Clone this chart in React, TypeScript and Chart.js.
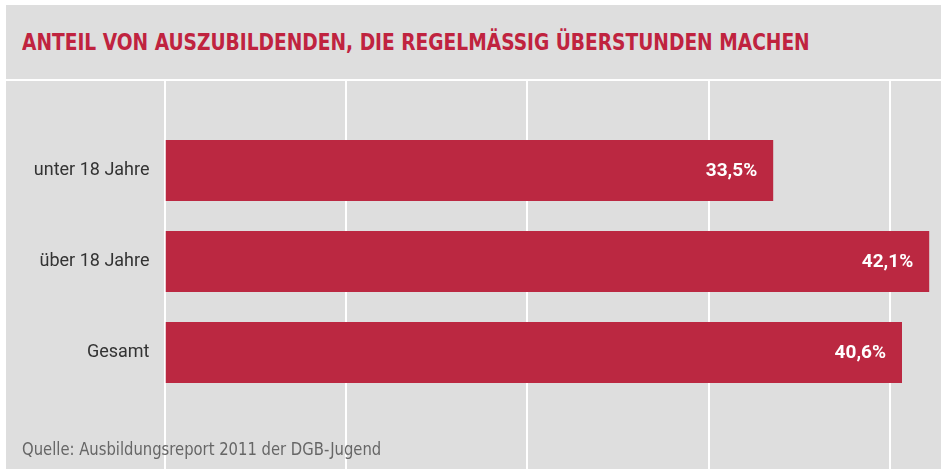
import React, { useEffect, useRef } from "react";
import { Chart, registerables } from "chart.js";

Chart.register(...registerables);

const categories: string[] = ["unter 18 Jahre", "über 18 Jahre", "Gesamt"];
const values: number[] = [33.5, 42.1, 40.6];
const gridTicks: number[] = [0, 10, 20, 30, 40];
const title = "ANTEIL VON AUSZUBILDENDEN, DIE REGELMÄSSIG ÜBERSTUNDEN MACHEN";
const source = "Quelle: Ausbildungsreport 2011 der DGB-Jugend";

const RED = "#bb2841";
const BG = "#dedede";

export default function App() {
  const ref = useRef<HTMLCanvasElement | null>(null);

  useEffect(() => {
    if (!ref.current) return;
    const gridPlugin = {
      id: "fullGrid",
      beforeDatasetsDraw(chart: any) {
        const ctx = chart.ctx;
        const xs = chart.scales.x;
        ctx.save();
        ctx.strokeStyle = "#ffffff";
        ctx.lineWidth = 2;
        for (const t of gridTicks) {
          const px = Math.round(xs.getPixelForValue(t)) - 1;
          ctx.beginPath();
          ctx.moveTo(px, 0);
          ctx.lineTo(px, chart.height);
          ctx.stroke();
        }
        ctx.restore();
      },
    };
    const labelPlugin = {
      id: "valueLabels",
      afterDatasetsDraw(chart: any) {
        const ctx = chart.ctx;
        const meta = chart.getDatasetMeta(0);
        ctx.save();
        ctx.fillStyle = "#ffffff";
        ctx.font = "bold 19px Roboto, 'Open Sans', sans-serif";
        ctx.textAlign = "right";
        ctx.textBaseline = "middle";
        meta.data.forEach((bar: any, i: number) => {
          const v = values[i];
          const txt = v.toFixed(1).replace(".", ",") + "%";
          ctx.fillText(txt, bar.x - 16, bar.y + 1);
        });
        ctx.restore();
      },
    };
    const chart = new Chart(ref.current, {
      type: "bar",
      data: {
        labels: categories,
        datasets: [
          {
            data: values,
            backgroundColor: RED,
            borderWidth: 0,
            barPercentage: 0.67,
            categoryPercentage: 1,
          },
        ],
      },
      options: {
        indexAxis: "y",
        animation: false,
        responsive: false,
        devicePixelRatio: 1,
        layout: { padding: { top: 44, bottom: 71, left: 0, right: 0 } },
        plugins: {
          legend: { display: false },
          tooltip: { enabled: false },
          title: { display: false },
        },
        scales: {
          x: {
            display: false,
            min: 0,
            max: 42.75,
          },
          y: {
            grid: { display: false, drawTicks: false },
            border: { display: false },
            afterFit: (s: any) => {
              s.width = 159.5;
            },
            ticks: {
              padding: 16,
              color: "#333333",
              font: { family: "Roboto, sans-serif", size: 18 },
            },
          },
        },
      },
      plugins: [gridPlugin, labelPlugin],
    });
    return () => chart.destroy();
  }, []);

  return (
    <div
      style={{
        position: "fixed",
        left: 0,
        top: 0,
        width: 941,
        height: 469,
        background: "#ffffff",
        overflow: "hidden",
      }}
    >
      <div
        style={{
          position: "absolute",
          left: 6,
          top: 5,
          width: 935,
          height: 464,
          background: BG,
        }}
      />
      <div
        style={{
          position: "absolute",
          left: 6,
          top: 5,
          width: 935,
          height: 74,
          borderBottom: "2px solid #ffffff",
          background: BG,
        }}
      >
        <div
          style={{
            position: "absolute",
            left: 16,
            top: 24,
            fontFamily: "'Liberation Sans Narrow', 'DejaVu Sans Condensed', sans-serif",
            fontWeight: "bold",
            fontSize: 23,
            lineHeight: "27px",
            color: "#c0233f",
            whiteSpace: "nowrap",
            transform: "scaleX(0.9)",
            transformOrigin: "0 0",
          }}
        >
          {title}
        </div>
      </div>
      <canvas
        ref={ref}
        width={935}
        height={388}
        style={{ position: "absolute", left: 6, top: 81, width: 935, height: 388 }}
      />
      <div
        style={{
          position: "absolute",
          left: 22,
          top: 438,
          fontFamily: "'Liberation Sans Narrow', 'DejaVu Sans Condensed', sans-serif",
          fontSize: 17,
          lineHeight: "22px",
          color: "#666666",
          whiteSpace: "nowrap",
          transform: "scaleX(0.968)",
          transformOrigin: "0 0",
        }}
      >
        {source}
      </div>
    </div>
  );
}
